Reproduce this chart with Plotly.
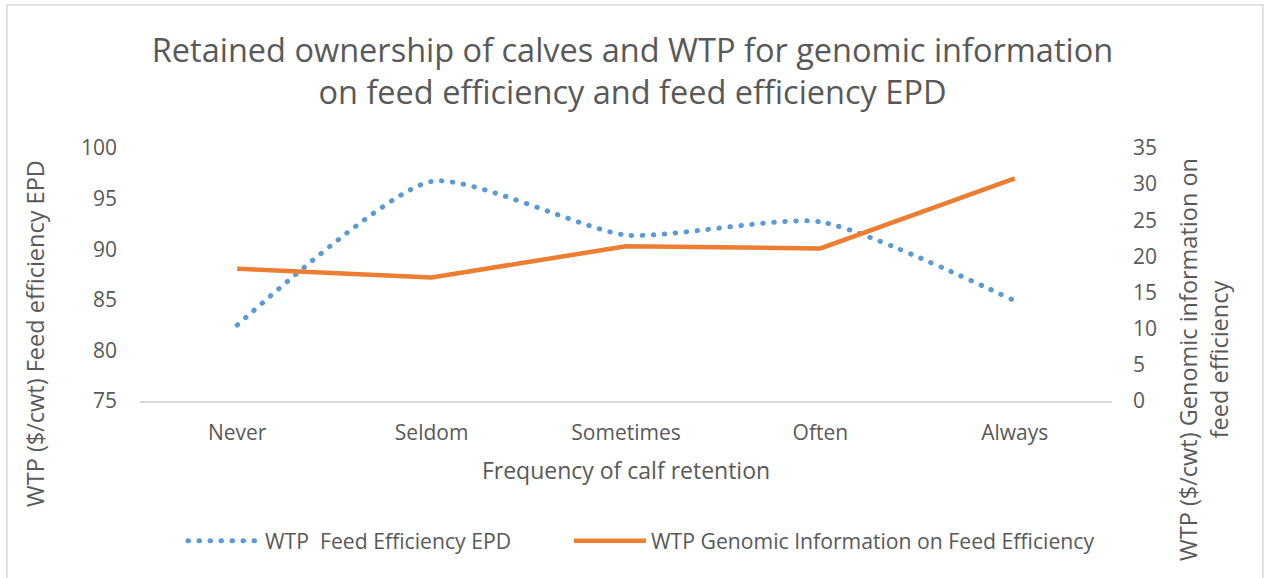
import plotly.graph_objects as go

categories = ["Never", "Seldom", "Sometimes", "Often", "Always"]
wtp_epd = [82.5, 96.7, 91.4, 92.7, 84.9]
wtp_genomic = [18.3, 17.1, 21.4, 21.1, 30.8]
left_ticks = [75, 80, 85, 90, 95, 100]
right_ticks = [0, 5, 10, 15, 20, 25, 30, 35]

FONT = "Open Sans"
GREY = "#595959"

fig = go.Figure()
fig.add_trace(go.Scatter(
    x=categories, y=wtp_epd, name="WTP  Feed Efficiency EPD",
    mode="lines", line=dict(color="#5b9bd5", width=5, dash="0.5px,10.5px", shape="spline", smoothing=0.6),
    yaxis="y", legend="legend"))
fig.add_trace(go.Scatter(
    x=categories, y=wtp_genomic, name="WTP Genomic Information on Feed Efficiency",
    mode="lines", line=dict(color="#ed7d31", width=4.5),
    yaxis="y2", legend="legend2"))

W, H = 1265, 578
L, R, T, B = 140, 153, 148, 177
pw, ph = W - L - R, H - T - B

def px(x):
    return (x - L) / pw

def py(y):
    return (H - B - y) / ph

legend_common = dict(orientation="h", yanchor="middle", y=py(541), xanchor="left",
                     font=dict(size=21.2, color=GREY), itemwidth=72, bgcolor="rgba(0,0,0,0)")

fig.update_layout(
    width=W, height=H,
    margin=dict(l=L, r=R, t=T, b=B, autoexpand=False),
    paper_bgcolor="white", plot_bgcolor="white",
    font=dict(family=FONT, color=GREY, size=21),
    title=dict(text="Retained ownership of calves and WTP for genomic information<br>on feed efficiency and feed efficiency EPD",
               x=0.5, xref="container", xanchor="center", y=1 - 62 / H, yanchor="middle",
               font=dict(family=FONT, size=32.5, color=GREY)),
    xaxis=dict(range=[-0.5, 4.5], showgrid=False, showline=True, linecolor="#d9d9d9", linewidth=1.5,
               ticks="", tickfont=dict(size=21, color=GREY), ticklabelstandoff=12,
               title=dict(text="Frequency of calf retention", font=dict(size=23, color=GREY), standoff=18)),
    yaxis=dict(range=[75, 100], tickvals=left_ticks, showgrid=False, zeroline=False,
               showline=False, ticks="", tickfont=dict(size=21, color=GREY), ticklabelstandoff=22),
    yaxis2=dict(range=[0, 35], tickvals=right_ticks, overlaying="y", side="right",
                showgrid=False, zeroline=False, showline=False, ticks="",
                tickfont=dict(size=21, color=GREY), ticklabelstandoff=20),
    legend=dict(**legend_common, x=px(183)),
    legend2=dict(**legend_common, x=px(569)),
    showlegend=True,
)

fig.add_annotation(text="WTP ($/cwt) Feed efficiency EPD", textangle=-90,
                   x=px(35), y=py(334), xref="paper", yref="paper", xanchor="center", yanchor="middle",
                   showarrow=False, font=dict(size=23.5, color=GREY))
fig.add_annotation(text="WTP ($/cwt) Genomic information on<br>feed efficiency", textangle=-90,
                   x=px(1203), y=py(360), xref="paper", yref="paper", xanchor="center", yanchor="middle",
                   showarrow=False, font=dict(size=23.5, color=GREY))

fig.add_shape(type="rect", xref="paper", yref="paper",
              x0=px(7), x1=px(1263), y0=py(590), y1=py(5),
              line=dict(color="#d9d9d9", width=1.5), fillcolor="rgba(0,0,0,0)", layer="below")

post = """
document.body.style.margin='0';document.body.style.padding='0';
document.querySelectorAll('path.js-line, .legendlines path').forEach(function(p){
  if ((p.style.strokeDasharray||'').indexOf('0.5') >= 0) { p.style.strokeLinecap = 'round'; }
});
"""
fig.write_html("out.html", post_script=post, config={"displayModeBar": False})
